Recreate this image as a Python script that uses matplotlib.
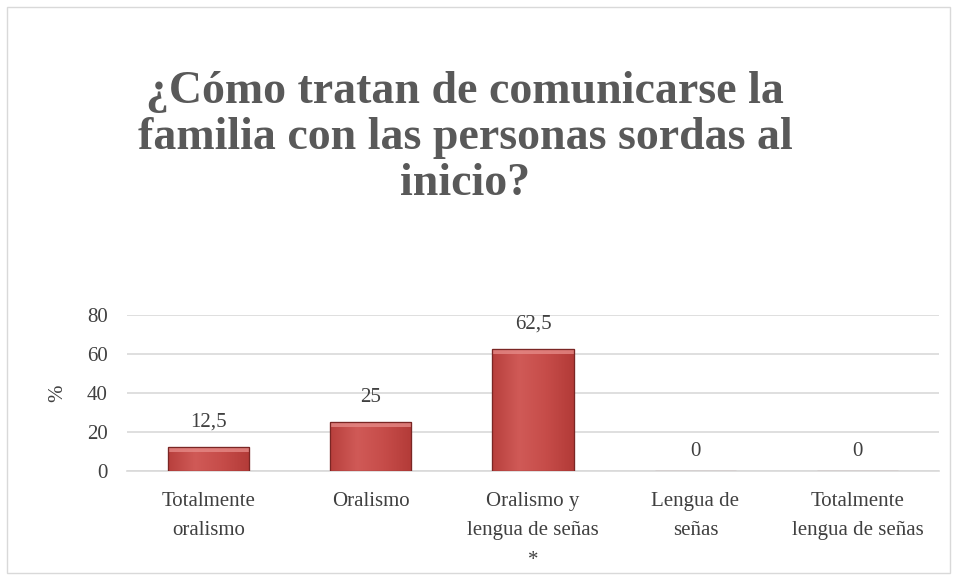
import numpy as np
import matplotlib.pyplot as plt
from matplotlib.patches import Rectangle
from matplotlib.colors import LinearSegmentedColormap

# Data
categorias = ["Totalmente\noralismo", "Oralismo", "Oralismo y\nlengua de señas\n*",
              "Lengua de\nseñas", "Totalmente\nlengua de señas"]
valores = [12.5, 25, 62.5, 0, 0]
etiquetas = ["12,5", "25", "62,5", "0", "0"]
yticks = [0, 20, 40, 60, 80]
titulo = "¿Cómo tratan de comunicarse la\nfamilia con las personas sordas al\ninicio?"

plt.rcParams['font.family'] = ['Liberation Serif', 'DejaVu Serif']

fig = plt.figure(figsize=(9.56, 5.8), dpi=100)
ax = fig.add_axes([127 / 956, 1 - 471 / 580, (939 - 127) / 956, (471 - 315) / 580])

# Chart frame
fig.patches.append(Rectangle((7 / 956, 7 / 580), 943 / 956, 566 / 580, transform=fig.transFigure,
                             fill=False, edgecolor='#D9D9D9', linewidth=1))

x = np.arange(len(valores))
bars = ax.bar(x, valores, width=0.5, color='#C9504D', edgecolor='#8A2E2C', linewidth=0.8, zorder=3)

# bevel look on each bar
cmap = LinearSegmentedColormap.from_list('rojo', ['#B8403D', '#D05A57', '#C64C49', '#B33B38'])
grad = np.linspace(0, 1, 100).reshape(1, -1)
for b in bars:
    h = b.get_height()
    if h <= 0:
        continue
    x0 = b.get_x()
    w = b.get_width()
    im = ax.imshow(grad, extent=(x0, x0 + w, 0, h), aspect='auto', cmap=cmap, zorder=3.5)
    im.set_clip_path(b)
    bev = min(2.5, h * 0.3)
    ax.add_patch(Rectangle((x0, h - bev), w, bev, color='#E58986', alpha=0.8,
                           zorder=3.6, linewidth=0))
    ax.add_patch(Rectangle((x0, 0), w, h, fill=False, edgecolor='#7A2624',
                           linewidth=0.9, zorder=3.7))

for xi, v, lab in zip(x, valores, etiquetas):
    ax.annotate(lab, (xi, v), xytext=(0, 18 if v > 0 else 14), textcoords='offset points',
                ha='center', va='center', fontsize=15, color='#404040')

ax.set_xlim(-0.5, len(valores) - 0.5)
ax.set_ylim(0, 80)
ax.set_yticks(yticks)
ax.set_yticklabels([str(t) for t in yticks], fontsize=15, color='#404040')
ax.set_xticks(x)
ax.set_xticklabels(categorias, fontsize=15, color='#404040', linespacing=1.75)
ax.tick_params(axis='both', length=0)
ax.tick_params(axis='x', pad=15)
ax.tick_params(axis='y', pad=14)
ax.grid(axis='y', color='#D9D9D9', linewidth=1.2, zorder=0)
for s in ['top', 'right', 'left']:
    ax.spines[s].set_visible(False)
ax.spines['bottom'].set_color('#D9D9D9')
ax.spines['bottom'].set_linewidth(1.2)
ax.set_ylabel('%', fontsize=15, color='#404040', labelpad=14)

fig.text(465 / 956, 1 - 71 / 580, titulo, ha='center', va='top', fontsize=33,
         fontweight='bold', color='#595959', linespacing=1.12)

fig.savefig('out.png', dpi=100)
